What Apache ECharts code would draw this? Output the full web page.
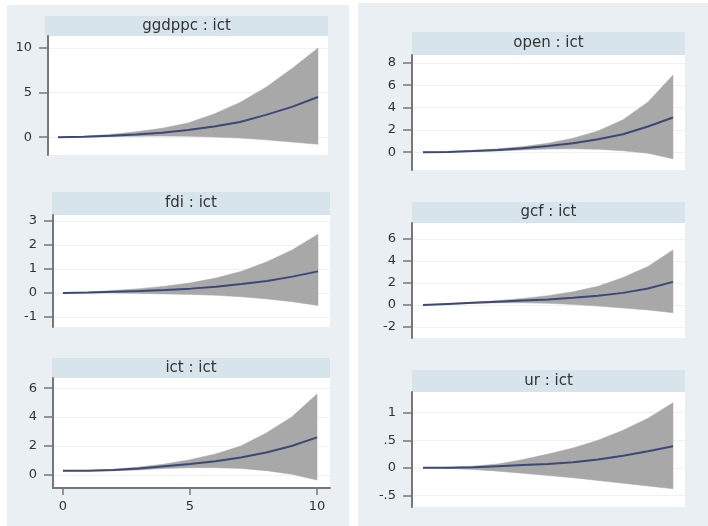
<!DOCTYPE html>
<html><head><meta charset="utf-8">
<script src="https://cdn.jsdelivr.net/npm/echarts@6/dist/echarts.min.js"></script>
<style>html,body{margin:0;padding:0;background:#fff}#c{width:708px;height:526px}</style>
</head><body><div id="c"></div>
<script>
// ---- data ----
const steps = [0,1,2,3,4,5,6,7,8,9,10];
const xTicks = [0,5,10];

const titles = ['ggdppc : ict','fdi : ict','ict : ict','open : ict','gcf : ict','ur : ict'];

const ggdppcIrf = [0,0.05,0.15,0.3,0.5,0.8,1.2,1.7,2.5,3.4,4.5];
const ggdppcLo  = [0,0.02,0.06,0.1,0.12,0.1,0.02,-0.1,-0.3,-0.55,-0.8];
const ggdppcHi  = [0,0.1,0.3,0.6,1.0,1.6,2.6,3.9,5.6,7.7,10];
const ggdppcTicks = [0,5,10];
const ggdppcTickLabels = ['0','5','10'];

const fdiIrf = [0,0.02,0.05,0.08,0.12,0.18,0.26,0.37,0.5,0.68,0.9];
const fdiLo  = [0,0,0,-0.02,-0.04,-0.06,-0.1,-0.16,-0.25,-0.37,-0.52];
const fdiHi  = [0,0.04,0.1,0.18,0.28,0.42,0.62,0.9,1.3,1.8,2.45];
const fdiTicks = [-1,0,1,2,3];
const fdiTickLabels = ['-1','0','1','2','3'];

const ictIrf = [0.3,0.3,0.35,0.45,0.6,0.75,0.95,1.2,1.55,2.0,2.6];
const ictLo  = [0.3,0.28,0.3,0.35,0.45,0.5,0.5,0.45,0.3,0.05,-0.35];
const ictHi  = [0.3,0.32,0.4,0.55,0.75,1.05,1.45,2.0,2.9,4.0,5.6];
const ictTicks = [0,2,4,6];
const ictTickLabels = ['0','2','4','6'];

const openIrf = [0,0.02,0.1,0.2,0.35,0.55,0.8,1.15,1.6,2.3,3.1];
const openLo  = [0,0,0.05,0.1,0.2,0.28,0.3,0.25,0.12,-0.1,-0.6];
const openHi  = [0,0.05,0.15,0.3,0.5,0.8,1.25,1.9,2.9,4.5,6.9];
const openTicks = [0,2,4,6,8];
const openTickLabels = ['0','2','4','6','8'];

const gcfIrf = [0,0.1,0.2,0.3,0.4,0.5,0.65,0.85,1.1,1.5,2.1];
const gcfLo  = [0,0.08,0.15,0.2,0.2,0.15,0.05,-0.1,-0.28,-0.45,-0.7];
const gcfHi  = [0,0.12,0.25,0.4,0.6,0.85,1.2,1.7,2.5,3.5,5.0];
const gcfTicks = [-2,0,2,4,6];
const gcfTickLabels = ['-2','0','2','4','6'];

const urIrf = [0,0,0.01,0.03,0.05,0.07,0.1,0.15,0.22,0.3,0.39];
const urLo  = [0,-0.01,-0.03,-0.06,-0.1,-0.14,-0.18,-0.23,-0.28,-0.33,-0.38];
const urHi  = [0,0.01,0.03,0.07,0.15,0.25,0.36,0.5,0.68,0.9,1.18];
const urTicks = [-0.5,0,0.5,1];
const urTickLabels = ['-.5','0','.5','1'];

const irfs = [ggdppcIrf, fdiIrf, ictIrf, openIrf, gcfIrf, urIrf];
const los = [ggdppcLo, fdiLo, ictLo, openLo, gcfLo, urLo];
const his = [ggdppcHi, fdiHi, ictHi, openHi, gcfHi, urHi];
const ticks = [ggdppcTicks, fdiTicks, ictTicks, openTicks, gcfTicks, urTicks];
const tickLabels = [ggdppcTickLabels, fdiTickLabels, ictTickLabels, openTickLabels, gcfTickLabels, urTickLabels];

// ---- layout ----
const grids = [
  {left:48, top:36, width:280, height:119, xmin:-0.385, xmax:10.385, ymin:-2.0, ymax:11.35},
  {left:53, top:215, width:277, height:112, xmin:-0.39, xmax:10.47, ymin:-1.42, ymax:3.25},
  {left:53, top:378, width:277, height:110, xmin:-0.39, xmax:10.51, ymin:-0.9, ymax:6.7},
  {left:412, top:55, width:273, height:115, xmin:-0.44, xmax:10.48, ymin:-1.6, ymax:8.7},
  {left:412, top:223, width:273, height:115, xmin:-0.44, xmax:10.48, ymin:-3.0, ymax:7.45},
  {left:412, top:392, width:273, height:115, xmin:-0.44, xmax:10.48, ymin:-0.71, ymax:1.375}
];
const heads = [
  [45,16,283,20],[52,192,278,23],[52,358,278,20],
  [412,32,273,23],[412,202,273,21],[412,370,273,22]
];

const PANEL = '#e9eff3', HEAD = '#d7e4ec', BAND = '#a8a8a8', LINE = '#3d4877', AX = '#777777';

const chart = echarts.init(document.getElementById('c'), null, {renderer:'canvas'});

const gridOpts = [], xAxes = [], yAxes = [], series = [];
grids.forEach((g, i) => {
  gridOpts.push({left:g.left, top:g.top, width:g.width, height:g.height, show:true,
    backgroundColor:'#ffffff', borderWidth:0, containLabel:false});
  const showX = (i === 2);
  xAxes.push({type:'value', gridIndex:i, min:g.xmin, max:g.xmax,
    axisLine:{show:showX, onZero:false, lineStyle:{color:AX, width:2}},
    axisTick:{show:showX, length:7, lineStyle:{color:AX, width:1.5}, customValues:xTicks},
    axisLabel:{show:showX, customValues:xTicks, fontSize:13, color:'#333', fontFamily:'DejaVu Sans', margin:12},
    splitLine:{show:false}});
  const lbls = tickLabels[i], tv = ticks[i];
  yAxes.push({type:'value', gridIndex:i, min:g.ymin, max:g.ymax,
    axisLine:{show:true, onZero:false, lineStyle:{color:AX, width:2}},
    axisTick:{show:true, length:9, lineStyle:{color:AX, width:1.5}, customValues:tv},
    axisLabel:{show:true, customValues:tv, fontSize:13, color:'#333', fontFamily:'DejaVu Sans', margin:16,
      formatter:(v)=>{ const k = tv.findIndex(t=>Math.abs(t-v)<1e-9); return k>=0?lbls[k]:''; }},
    splitLine:{show:true, lineStyle:{color:'#eef2f5', width:1}}});
  const lo = los[i], hi = his[i], irf = irfs[i];
  series.push({type:'custom', xAxisIndex:i, yAxisIndex:i, silent:true, z:3,
    encode:{x:0, y:[1,2]},
    data: steps.map((s,k)=>[s, lo[k], hi[k]]),
    renderItem:(params, api)=>{
      if (params.dataIndex !== 0) return null;
      const up = steps.map((s,k)=>api.coord([s, hi[k]]));
      const dn = steps.map((s,k)=>api.coord([s, lo[k]])).reverse();
      return {type:'polygon', shape:{points: up.concat(dn)}, style:{fill:BAND, stroke:BAND, lineWidth:0.5}};
    }});
  series.push({type:'line', xAxisIndex:i, yAxisIndex:i, symbol:'none', silent:true, z:5,
    lineStyle:{color:LINE, width:2}, data: steps.map((s,k)=>[s, irf[k]])});
});

const graphics = [
  {type:'rect', shape:{x:7, y:5, width:342, height:521}, style:{fill:PANEL}, z:-10},
  {type:'rect', shape:{x:358, y:3, width:350, height:523}, style:{fill:PANEL}, z:-10}
];
heads.forEach((h, i) => {
  graphics.push({type:'rect', shape:{x:h[0], y:h[1], width:h[2], height:h[3]}, style:{fill:HEAD}, z:-5});
  graphics.push({type:'text', x:h[0]+h[2]/2, y:h[1]+h[3]/2, z:-4,
    style:{text:titles[i], fill:'#333', font:'15px "DejaVu Sans"', align:'center', verticalAlign:'middle'}});
});

chart.setOption({
  animation:false,
  backgroundColor:'#ffffff',
  grid:gridOpts, xAxis:xAxes, yAxis:yAxes, series:series,
  graphic:{elements:graphics}
});
</script></body></html>
